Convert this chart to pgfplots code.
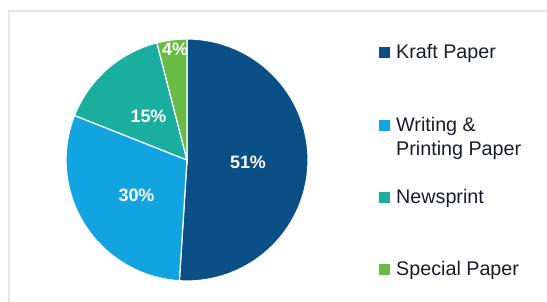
\documentclass[border=0pt]{standalone}
\usepackage{pgfplots}
\pgfplotsset{compat=1.18}
\usepackage{fontspec}
\setmainfont{Liberation Sans}
\definecolor{kraft}{HTML}{0B4F87}
\definecolor{writing}{HTML}{12A3E1}
\definecolor{news}{HTML}{1AAE9F}
\definecolor{special}{HTML}{68BC45}
\definecolor{legtext}{HTML}{1A1C2C}
\definecolor{frame}{HTML}{E8E8E8}
\begin{document}
\begin{tikzpicture}
\useasboundingbox (0,0) rectangle (547bp,302bp);
\begin{axis}[at={(0,0)}, anchor=origin, x=1bp, y=1bp,
  xmin=0, xmax=547, ymin=0, ymax=302, hide axis, scale only axis, clip=false]
% faint frame
\draw[frame, line width=2.5bp] (axis cs:9,0) -- (axis cs:9,291);
\draw[frame, line width=1.2bp] (axis cs:8,291) -- (axis cs:547,291);
% pie slices: 51, 30, 15, 4 (percent), clockwise from top
\fill[kraft, draw=white, line width=1.2bp] (axis cs:187,142) -- ++(90:121bp)
  arc[start angle=90, end angle={90-51*3.6}, radius=121bp] -- cycle;
\fill[writing, draw=white, line width=1.2bp] (axis cs:187,142) -- ++({90-51*3.6}:121bp)
  arc[start angle={90-51*3.6}, end angle={90-81*3.6}, radius=121bp] -- cycle;
\fill[news, draw=white, line width=1.2bp] (axis cs:187,142) -- ++({90-81*3.6}:121bp)
  arc[start angle={90-81*3.6}, end angle={90-96*3.6}, radius=121bp] -- cycle;
\fill[special, draw=white, line width=1.2bp] (axis cs:187,142) -- ++({90-96*3.6}:121bp)
  arc[start angle={90-96*3.6}, end angle={90-100*3.6}, radius=121bp] -- cycle;
% percentage labels
\begin{scope}[every node/.style={inner sep=0pt, text=white, font=\fontsize{18}{20}\selectfont\bfseries}]
\node at (axis cs:248,139.5) {51\%};
\node at (axis cs:136.5,107) {30\%};
\node at (axis cs:148.5,185.5) {15\%};
\node at (axis cs:175,253) {4\%};
\end{scope}
% legend
\begin{scope}[every node/.style={inner sep=0pt, anchor=base west, text=legtext, font=\fontsize{19.8}{24}\selectfont}]
\fill[kraft] (axis cs:379,243.5) rectangle (axis cs:390,254.5);
\node at (axis cs:396,244) {Kraft Paper};
\fill[writing] (axis cs:379,170.5) rectangle (axis cs:390,181.5);
\node at (axis cs:396,171) {Writing \&};
\node at (axis cs:396,147) {Printing Paper};
\fill[news] (axis cs:379,98.5) rectangle (axis cs:390,109.5);
\node at (axis cs:396,99) {Newsprint};
\fill[special] (axis cs:379,26.5) rectangle (axis cs:390,37.5);
\node at (axis cs:396,27) {Special Paper};
\end{scope}
\end{axis}
\end{tikzpicture}
\end{document}
